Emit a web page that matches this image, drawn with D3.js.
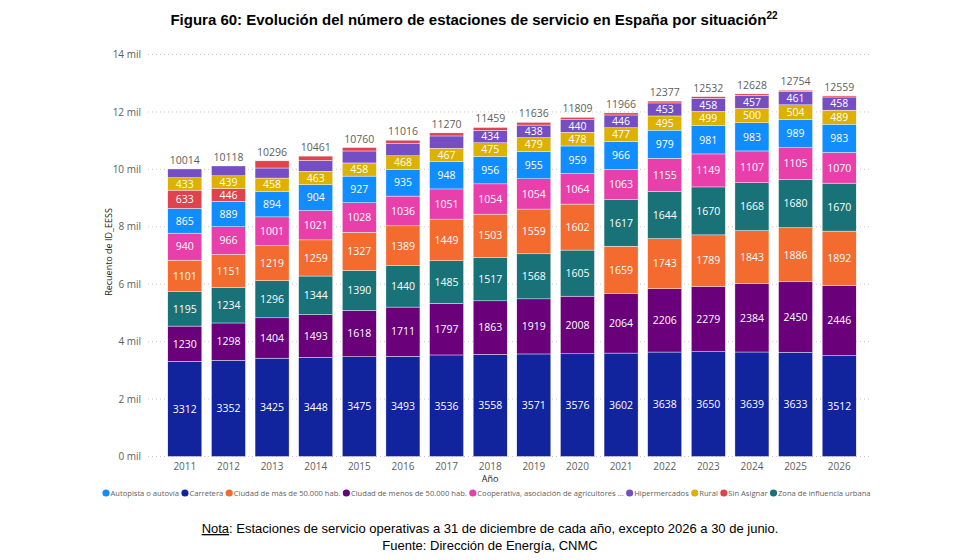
<!DOCTYPE html>
<html>
<head>
<meta charset="utf-8">
<script src="https://cdn.jsdelivr.net/npm/d3@7"></script>
<style>
  body { margin: 0; background: #fff; }
  svg { display: block; }
  .seg-label { font-family: "Open Sans", sans-serif; font-size: 10.5px; fill: #fff; }
  .total-label { font-family: "Open Sans", sans-serif; font-size: 10.5px; fill: #605e5c; }
  .tick text { font-family: "Open Sans", sans-serif; font-size: 10px; fill: #605e5c; }
  .legend text { font-family: "Open Sans", sans-serif; font-size: 7.6px; fill: #605e5c; }
</style>
</head>
<body>
<svg id="chart" width="980" height="560"></svg>
<script>
// Years on the x axis
const years = [2011, 2012, 2013, 2014, 2015, 2016, 2017, 2018, 2019, 2020, 2021, 2022, 2023, 2024, 2025, 2026];

// One array per "situación" (hidden ones estimated)
const autopista   = [865, 889, 894, 904, 927, 935, 948, 956, 955, 959, 966, 979, 981, 983, 989, 983];
const carretera   = [3312, 3352, 3425, 3448, 3475, 3493, 3536, 3558, 3571, 3576, 3602, 3638, 3650, 3639, 3633, 3512];
const ciudadMas   = [1101, 1151, 1219, 1259, 1327, 1389, 1449, 1503, 1559, 1602, 1659, 1743, 1789, 1843, 1886, 1892];
const ciudadMenos = [1230, 1298, 1404, 1493, 1618, 1711, 1797, 1863, 1919, 2008, 2064, 2206, 2279, 2384, 2450, 2446];
const cooperativa = [940, 966, 1001, 1021, 1028, 1036, 1051, 1054, 1054, 1064, 1063, 1155, 1149, 1107, 1105, 1070];
const hipermercados = [305, 343, 350, 379, 417, 429, 430, 434, 438, 440, 446, 453, 458, 457, 461, 458];
const rural       = [433, 439, 458, 463, 458, 468, 467, 475, 479, 478, 477, 495, 499, 500, 504, 489];
const sinAsignar  = [633, 446, 249, 150, 120, 115, 107, 99, 93, 77, 72, 64, 57, 47, 46, 39];
const zonaUrbana  = [1195, 1234, 1296, 1344, 1390, 1440, 1485, 1517, 1568, 1605, 1617, 1644, 1670, 1668, 1680, 1670];

const yTicks = [0, 2000, 4000, 6000, 8000, 10000, 12000, 14000];

// Legend order as shown under the chart
const series = [
  { name: 'Autopista o autovía', values: autopista, color: '#118DFF' },
  { name: 'Carretera', values: carretera, color: '#12239E' },
  { name: 'Ciudad de más de 50.000 hab.', values: ciudadMas, color: '#F36B2E' },
  { name: 'Ciudad de menos de 50.000 hab.', values: ciudadMenos, color: '#6B007B' },
  { name: 'Cooperativa, asociación de agricultores ...', values: cooperativa, color: '#E83FAA' },
  { name: 'Hipermercados', values: hipermercados, color: '#744EC2' },
  { name: 'Rural', values: rural, color: '#DDB100' },
  { name: 'Sin Asignar', values: sinAsignar, color: '#E0434E' },
  { name: 'Zona de influencia urbana', values: zonaUrbana, color: '#197278' }
];

const svg = d3.select('#chart');

// Title with superscript note number
const title = svg.append('text')
  .attr('x', 474).attr('y', 25)
  .attr('text-anchor', 'middle')
  .style('font-family', '"Liberation Sans", Arial, sans-serif')
  .style('font-size', '15px')
  .style('font-weight', 'bold')
  .style('fill', '#000');
title.append('tspan').text('Figura 60: Evolución del número de estaciones de servicio en España por situación');
title.append('tspan').attr('dy', -6).style('font-size', '10px').text('22');

const x = d3.scaleBand()
  .domain(years)
  .range([163, 861])
  .paddingInner(0.22)
  .paddingOuter(0.11);

const y = d3.scaleLinear()
  .domain([0, 14000])
  .range([456.5, 54.5]);

// Gridlines + y tick labels
const yAxis = svg.append('g')
  .attr('transform', 'translate(148,0)')
  .call(d3.axisLeft(y).tickValues(yTicks).tickSize(0).tickPadding(7)
    .tickFormat(d => `${d / 1000} mil`));
yAxis.select('.domain').remove();
yAxis.selectAll('.tick line').remove();

svg.append('g').selectAll('line')
  .data(yTicks)
  .join('line')
  .attr('x1', 148).attr('x2', 872)
  .attr('y1', d => y(d)).attr('y2', d => y(d))
  .attr('stroke', '#c8c8c8')
  .attr('stroke-width', 1)
  .attr('stroke-dasharray', '1,3');

// Y axis title
svg.append('text')
  .attr('transform', `translate(112,252) rotate(-90)`)
  .attr('text-anchor', 'middle')
  .style('font-family', '"Open Sans", sans-serif')
  .style('font-size', '9px')
  .style('fill', '#252423')
  .text('Recuento de ID_EESS');

// Per-year stacks: Power BI here sorts segments by value, largest at the bottom
const stacks = years.map((year, i) => {
  const segs = series
    .map(s => ({ name: s.name, color: s.color, value: s.values[i], year }))
    .sort((a, b) => b.value - a.value);
  let acc = 0;
  segs.forEach(seg => {
    seg.y0 = acc;
    acc += seg.value;
    seg.y1 = acc;
  });
  return { year, total: acc, segs };
});

const bars = svg.append('g').selectAll('g')
  .data(stacks)
  .join('g');

bars.selectAll('rect')
  .data(d => d.segs)
  .join('rect')
  .attr('x', d => x(d.year))
  .attr('width', x.bandwidth())
  .attr('y', d => y(d.y1))
  .attr('height', d => y(d.y0) - y(d.y1))
  .attr('fill', d => d.color)
  .attr('stroke', '#fff')
  .attr('stroke-width', 0.4);

// Segment labels only where the text fits
bars.selectAll('text.seg-label')
  .data(d => d.segs.filter(s => s.value >= 432))
  .join('text')
  .attr('class', 'seg-label')
  .attr('x', d => x(d.year) + x.bandwidth() / 2)
  .attr('y', d => (y(d.y0) + y(d.y1)) / 2)
  .attr('dy', '0.36em')
  .attr('text-anchor', 'middle')
  .text(d => d.value);

// Totals above each bar
bars.append('text')
  .attr('class', 'total-label')
  .attr('x', d => x(d.year) + x.bandwidth() / 2)
  .attr('y', d => y(d.total) - 5)
  .attr('text-anchor', 'middle')
  .text(d => d.total);

// X axis
const xAxis = svg.append('g')
  .attr('transform', `translate(0,${y(0)})`)
  .call(d3.axisBottom(x).tickSize(0).tickPadding(6));
xAxis.select('.domain').remove();

svg.append('text')
  .attr('x', 490).attr('y', 482)
  .attr('text-anchor', 'middle')
  .style('font-family', '"Open Sans", sans-serif')
  .style('font-size', '9px')
  .style('fill', '#252423')
  .text('Año');

// Legend, laid out left to right
const legend = svg.append('g').attr('class', 'legend');
let lx = 106;
series.forEach(s => {
  const item = legend.append('g').attr('transform', `translate(${lx},493)`);
  item.append('circle').attr('r', 3.6).attr('fill', s.color);
  const t = item.append('text').attr('x', 4.5).attr('dy', '0.35em').text(s.name);
  lx += 4.5 + t.node().getComputedTextLength() + 6;
});

// Footer notes
const note = svg.append('text')
  .attr('x', 490).attr('y', 533)
  .attr('text-anchor', 'middle')
  .style('font-family', '"Liberation Sans", Arial, sans-serif')
  .style('font-size', '13px')
  .style('fill', '#000');
note.append('tspan').style('text-decoration', 'underline').text('Nota');
note.append('tspan').text(': Estaciones de servicio operativas a 31 de diciembre de cada año, excepto 2026 a 30 de junio.');

svg.append('text')
  .attr('x', 490).attr('y', 550)
  .attr('text-anchor', 'middle')
  .style('font-family', '"Liberation Sans", Arial, sans-serif')
  .style('font-size', '13px')
  .style('fill', '#000')
  .text('Fuente: Dirección de Energía, CNMC');
</script>
</body>
</html>
